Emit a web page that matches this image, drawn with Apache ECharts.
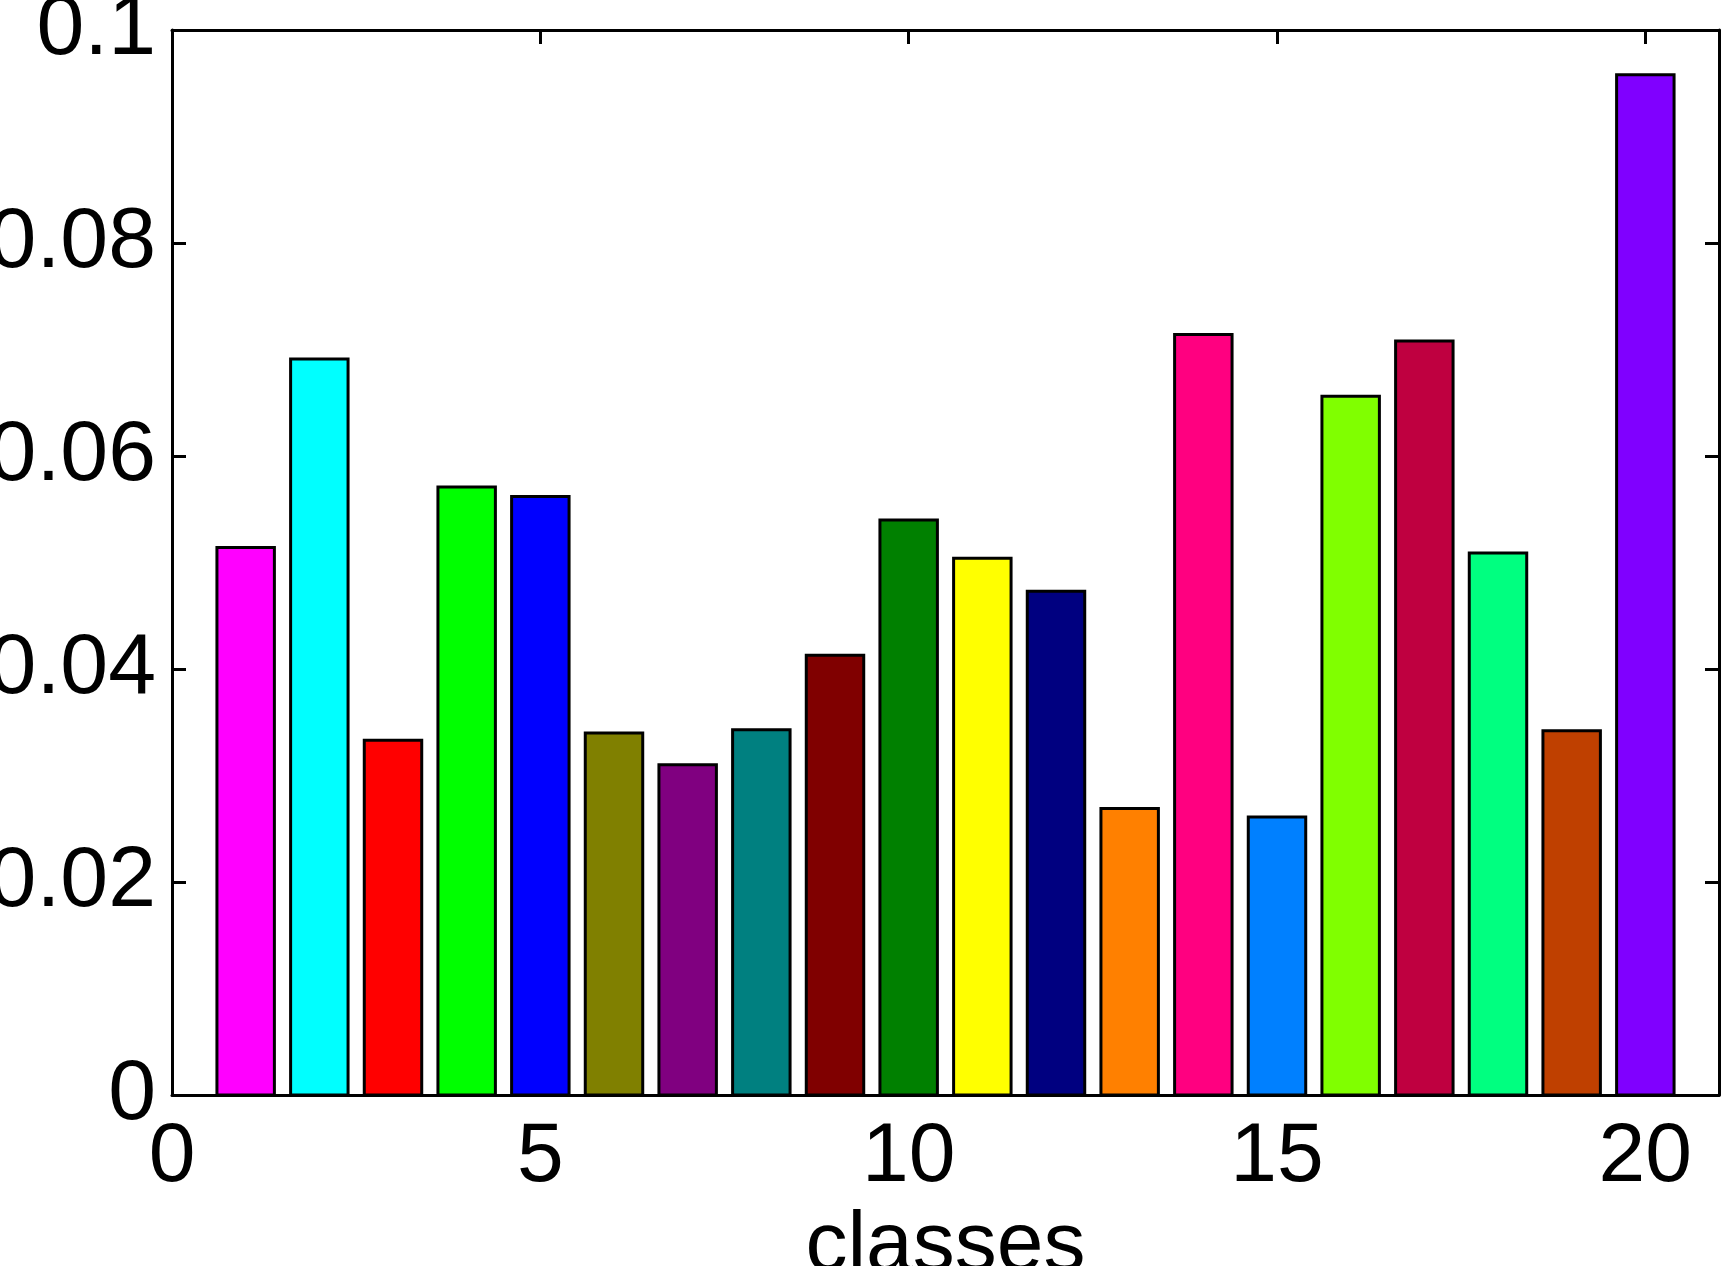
<!DOCTYPE html>
<html>
<head>
<meta charset="utf-8">
<script src="https://cdn.jsdelivr.net/npm/echarts@6/dist/echarts.min.js"></script>
<style>
html,body{margin:0;padding:0;background:#fff;}
#chart{width:1722px;height:1266px;}
</style>
</head>
<body>
<div id="chart"></div>
<script>
const classes = [1,2,3,4,5,6,7,8,9,10,11,12,13,14,15,16,17,18,19,20];
const values = [0.0514,0.0691,0.0333,0.0571,0.0562,0.0340,0.0310,0.0343,0.0413,0.0540,
                0.0504,0.0473,0.0269,0.0714,0.0261,0.0656,0.0708,0.0509,0.0342,0.0958];
const colors = ['#FF00FF','#00FFFF','#FF0000','#00FF00','#0000FF','#808000','#800080','#008080','#800000','#008000',
                '#FFFF00','#000080','#FF8000','#FF0080','#0080FF','#80FF00','#BF0040','#00FF80','#BF4000','#8000FF'];
const xTicks = [0,5,10,15,20];
const yTicks = [0,0.02,0.04,0.06,0.08,0.1];

const font = '"Liberation Sans", Arial, Helvetica, sans-serif';
const chart = echarts.init(document.getElementById('chart'), null, {renderer:'canvas'});
const axisLine = {show:true, onZero:false, lineStyle:{color:'#000', width:3}};
const tick = {show:true, inside:true, length:14, lineStyle:{color:'#000', width:3}};

const data = classes.map((c,i)=>[c, values[i]]);

chart.setOption({
  animation:false,
  backgroundColor:'#fff',
  grid:{left:172, right:3, top:30, bottom:171, outerBoundsMode:'none'},
  xAxis:[{
    type:'value', min:0, max:21, interval:5, position:'bottom',
    axisLine:axisLine, axisTick:tick, splitLine:{show:false},
    axisLabel:{show:true, margin:21, fontSize:84, color:'#000', fontFamily:font, showMaxLabel:false,
      formatter:v=> xTicks.includes(v) ? String(v) : ''},
    name:'classes', nameLocation:'middle', nameGap:97,
    nameTextStyle:{fontSize:84, color:'#000', fontFamily:font}
  },{
    type:'value', min:0, max:21, interval:5, position:'top',
    axisLine:axisLine, axisTick:tick, splitLine:{show:false}, axisLabel:{show:false}
  }],
  yAxis:[{
    type:'value', min:0, max:0.1, interval:0.02, position:'left',
    axisLine:axisLine, axisTick:tick, splitLine:{show:false},
    axisLabel:{show:true, margin:16, fontSize:86, color:'#000', fontFamily:font,
      formatter:v=>{ const r = Math.round(v*100)/100; return yTicks.some(t=>Math.abs(t-r)<1e-9) ? String(r) : ''; }}
  },{
    type:'value', min:0, max:0.1, interval:0.02, position:'right',
    axisLine:axisLine, axisTick:tick, splitLine:{show:false}, axisLabel:{show:false}
  }],
  series:[{
    type:'custom',
    xAxisIndex:0, yAxisIndex:0,
    data:data,
    renderItem:function(params, api){
      const x = api.value(0), y = api.value(1);
      const top = api.coord([x, y]);
      const base = api.coord([x, 0]);
      const w = api.size([0.78, 0])[0];
      return {
        type:'rect',
        shape:{x:top[0]-w/2, y:top[1], width:w, height:base[1]-top[1]},
        style:{fill:colors[params.dataIndex], stroke:'#000', lineWidth:3}
      };
    },
    z:2
  }]
});
</script>
</body>
</html>
